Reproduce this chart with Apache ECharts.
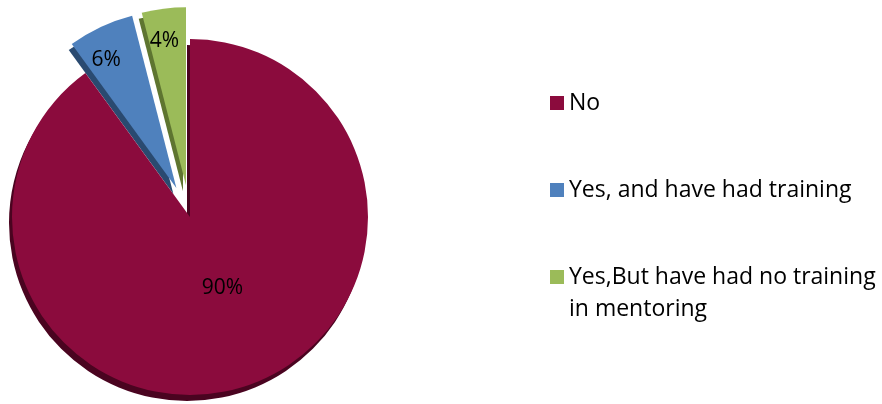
<!DOCTYPE html>
<html>
<head>
<meta charset="utf-8">
<script src="https://cdn.jsdelivr.net/npm/echarts@6/dist/echarts.min.js"></script>
<style>
  html, body { margin: 0; padding: 0; background: #fff; }
  #chart { width: 882px; height: 404px; }
</style>
</head>
<body>
<div id="chart"></div>
<script>
// Survey answers and their share of respondents (percent)
const categories = ['No', 'Yes, and have had training', 'Yes,But have had no training in mentoring'];
const shares = [90, 6, 4];
const colors = ['#8B0B3D', '#4F81BD', '#9BBB59'];
const edgeColors = ['#4A0420', '#2A4A70', '#5E7530'];
const pulledOut = [false, true, true];
const labelShift = [[4, -16], [-31, -45], [-10, -53]];

const chart = echarts.init(document.getElementById('chart'));

const center = [190, 217];
const radius = 178;
const explode = 32;

const mainData = categories.map((name, i) => ({
  name: name,
  value: shares[i],
  selected: pulledOut[i],
  itemStyle: { color: colors[i] },
  label: { offset: labelShift[i] },
  select: { label: { offset: labelShift[i] } }
}));

const edgeData = categories.map((name, i) => ({
  name: name,
  value: shares[i],
  selected: pulledOut[i],
  itemStyle: { color: edgeColors[i] }
}));

chart.setOption({
  animation: false,
  backgroundColor: '#ffffff',
  legend: {
    orient: 'vertical',
    left: 550,
    top: 55,
    padding: 0,
    itemWidth: 14,
    itemHeight: 14,
    itemGap: -9,
    icon: 'rect',
    selectedMode: false,
    data: categories,
    // Every entry is a three-line block so the icon lines up with the first text line;
    // the long entry wraps onto its lower line.
    formatter: function (name) {
      if (name.indexOf(' in mentoring') >= 0) {
        return '\n' + name.replace(' in mentoring', '\nin mentoring');
      }
      return '\n' + name + '\n';
    },
    textStyle: {
      fontFamily: 'Open Sans',
      fontSize: 23,
      color: '#000',
      lineHeight: 32
    }
  },
  series: [
    {
      name: 'answers',
      type: 'pie',
      z: 3,
      center: center,
      radius: [0, radius],
      startAngle: 90,
      clockwise: true,
      selectedMode: 'multiple',
      selectedOffset: explode,
      avoidLabelOverlap: false,
      emphasis: { disabled: true },
      label: {
        show: true,
        position: 'inside',
        formatter: '{c}%',
        fontFamily: 'Open Sans',
        fontSize: 21,
        color: '#000'
      },
      labelLine: { show: false },
      data: mainData
    },
    {
      name: 'depth',
      type: 'pie',
      z: 1,
      silent: true,
      center: [center[0] - 3, center[1] + 6],
      radius: [0, radius],
      startAngle: 90,
      clockwise: true,
      selectedMode: 'multiple',
      selectedOffset: explode,
      emphasis: { disabled: true },
      label: { show: false },
      labelLine: { show: false },
      data: edgeData
    }
  ]
});
</script>
</body>
</html>
